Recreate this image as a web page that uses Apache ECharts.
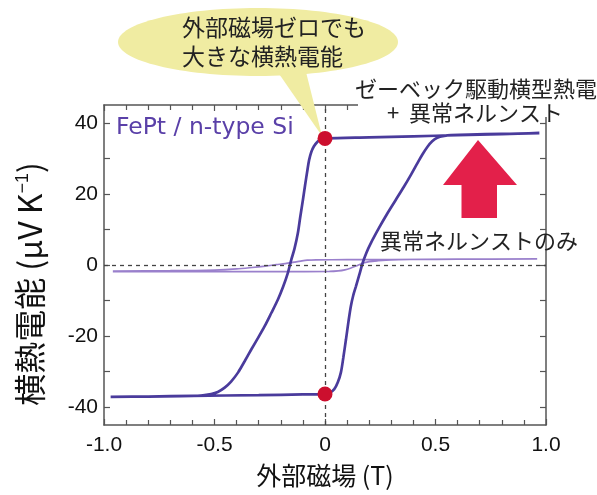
<!DOCTYPE html>
<html><head><meta charset="utf-8">
<script src="https://cdn.jsdelivr.net/npm/echarts@6/dist/echarts.min.js"></script>
<style>html,body{margin:0;padding:0;background:#fff}#c{width:597px;height:495px}</style>
</head><body><div id="c"></div>
<script>
// ---- data ----
const xTickLabels = ['-1.0', '-0.5', '0', '0.5', '1.0'];
const yTickLabels = [-40, -20, 0, 20, 40];
const yMinorTicks = [-40, -30, -20, -10, 0, 10, 20, 30, 40];

// FePt / n-type Si : Seebeck-driven transverse thermoelectric + anomalous Nernst (hysteresis loop)
const mainFieldT = [0.97, 0.8, 0.6, 0.4, 0.2, 0, -0.02, -0.035, -0.05, -0.062, -0.072, -0.08, -0.09, -0.1, -0.112, -0.123, -0.138, -0.153, -0.168, -0.19, -0.213, -0.243, -0.273, -0.303, -0.333, -0.363, -0.393, -0.425, -0.454, -0.485, -0.515, -0.56, -0.65, -0.8, -0.97,
  -0.8, -0.6, -0.3, -0.1, 0, 0.02, 0.042, 0.058, 0.072, 0.083, 0.095, 0.106, 0.117, 0.128, 0.14, 0.155, 0.17, 0.187, 0.207, 0.245, 0.282, 0.32, 0.357, 0.39, 0.417, 0.44, 0.463, 0.485, 0.508, 0.54, 0.57, 0.65, 0.8, 0.97];
const mainSeebeck = [37.1, 36.8, 36.5, 36.2, 35.9, 35.6, 35.3, 34.6, 33.4, 31.8, 29.5, 26.5, 22.5, 18.3, 13.5, 8.9, 4.6, 1.4, -2.2, -6.2, -9.7, -13.5, -17.2, -20.5, -23.7, -27, -30.2, -32.8, -34.5, -35.7, -36.3, -36.7, -36.9, -37.0, -37.1,
  -37.0, -36.8, -36.6, -36.4, -36.3, -36.0, -34.9, -33, -30.2, -26, -20.9, -16, -11.6, -8.5, -6, -2.8, 0.5, 3.4, 6.1, 10.5, 14.5, 18.3, 22, 25.5, 28.5, 31, 33.2, 34.8, 35.8, 36.3, 36.5, 36.7, 36.9, 37.1];

// anomalous Nernst only
const anFieldT = [-0.96, -0.7, -0.5, -0.4, -0.33, -0.27, -0.22, -0.18, -0.14, -0.11, -0.08, -0.04, 0.1, 0.3, 0.6, 0.96,
  0.6, 0.4, 0.3, 0.24, 0.2, 0.17, 0.14, 0.115, 0.09, 0.06, 0.02, -0.2, -0.5, -0.96];
const anSeebeck = [-1.7, -1.6, -1.4, -1.1, -0.7, -0.3, 0.1, 0.4, 0.8, 1.1, 1.35, 1.45, 1.5, 1.55, 1.65, 1.7,
  1.65, 1.55, 1.45, 1.2, 0.95, 0.5, -0.3, -0.9, -1.35, -1.65, -1.8, -1.85, -1.85, -1.9];

// zero-field points
const zeroFieldT = [0, 0];
const zeroFieldS = [35.6, -36.3];

// ---- chart ----
const latin = '"Liberation Sans", Arial, "Noto Sans CJK JP", sans-serif';
const cjk = '"Noto Sans CJK JP", "Liberation Sans", sans-serif';
const frame = { show: true, onZero: false, lineStyle: { color: '#555', width: 1.5 } };
const tickStyle = { color: '#555', width: 1.2 };

function xAxisCfg(pos, main) {
  return {
    type: 'value', position: pos, min: -1, max: 1, interval: 0.5,
    axisLine: frame,
    axisTick: { show: true, inside: true, length: 6, lineStyle: tickStyle },
    minorTick: { show: true, splitNumber: 5, length: 5, lineStyle: tickStyle },
    splitLine: { show: false }, minorSplitLine: { show: false },
    axisLabel: main ? {
      show: true, fontSize: 21, color: '#111', margin: 10, fontFamily: latin,
      formatter: v => xTickLabels[Math.round((v + 1) / 0.5)]
    } : { show: false },
    name: main ? '外部磁場 (T)' : '', nameLocation: 'middle', nameGap: 38,
    nameTextStyle: { fontSize: 25, color: '#111', fontFamily: cjk }
  };
}
function yAxisCfg(pos, main) {
  return {
    type: 'value', position: pos, min: -45, max: 45,
    axisLine: frame,
    axisTick: { show: true, inside: true, length: 6, lineStyle: tickStyle, customValues: yMinorTicks },
    splitLine: { show: false },
    axisLabel: main ? {
      show: true, fontSize: 21, color: '#111', margin: 6, fontFamily: latin,
      customValues: yTickLabels, formatter: v => String(v)
    } : { show: false },
    name: main ? '横熱電能 (μV K{sup|−1})' : '', nameLocation: 'middle', nameGap: 58, nameRotate: 90,
    nameTextStyle: { fontSize: 32, color: '#111', fontFamily: cjk, padding: [0, 38, 0, 0],
      rich: { sup: { fontSize: 18, fontFamily: latin, color: '#111', verticalAlign: 'top', padding: [0, 0, 14, 0] } } }
  };
}

const chart = echarts.init(document.getElementById('c'), null, { renderer: 'canvas' });
const bubbleFill = '#f0eca2';
chart.setOption({
  animation: false,
  backgroundColor: '#fff',
  grid: { left: 104, right: 51, top: 105, bottom: 70, outerBoundsMode: 'none', containLabel: false },
  xAxis: [xAxisCfg('bottom', true), xAxisCfg('top', false)],
  yAxis: [yAxisCfg('left', true), yAxisCfg('right', false)],
  series: [
    {
      type: 'line', data: [], z: 1,
      markLine: {
        silent: true, symbol: ['none', 'none'], label: { show: false },
        lineStyle: { type: [4, 4], color: '#444', width: 1.3 },
        data: [{ xAxis: 0 }, { yAxis: 0 }]
      }
    },
    {
      name: 'AN only', type: 'line', z: 3, showSymbol: false, smooth: 0.3,
      data: anFieldT.map((x, i) => [x, anSeebeck[i]]),
      lineStyle: { color: '#9a80cc', width: 1.7 }
    },
    {
      name: 'FePt / n-type Si', type: 'line', z: 4, showSymbol: false, smooth: 0.3,
      data: mainFieldT.map((x, i) => [x, mainSeebeck[i]]),
      lineStyle: { color: '#4a3b9c', width: 2.7 }
    },
    {
      type: 'scatter', z: 20, symbolSize: 15,
      data: zeroFieldT.map((x, i) => [x, zeroFieldS[i]]),
      itemStyle: { color: '#cc0f2e', opacity: 1 }
    }
  ],
  graphic: [
    { type: 'ellipse', z: 10, shape: { cx: 258, cy: 42, rx: 140, ry: 34 }, style: { fill: bubbleFill } },
    { type: 'polygon', z: 10, shape: { points: [[275, 68], [305, 68], [322, 136]] }, style: { fill: bubbleFill } },
    { type: 'text', z: 11, x: 182, y: 27, style: { text: '外部磁場ゼロでも', fontSize: 23, fontFamily: cjk, fill: '#222', align: 'left', verticalAlign: 'middle' } },
    { type: 'text', z: 11, x: 182, y: 56, style: { text: '大きな横熱電能', fontSize: 23, fontFamily: cjk, fill: '#222', align: 'left', verticalAlign: 'middle' } },
    { type: 'rect', z: 10, shape: { x: 358, y: 74, width: 239, height: 43 }, style: { fill: '#fff' } },
    { type: 'text', z: 11, x: 476, y: 89, style: { text: 'ゼーベック駆動横型熱電', fontSize: 22, fontFamily: cjk, fill: '#222', align: 'center', verticalAlign: 'middle' } },
    { type: 'text', z: 11, x: 475, y: 113, style: { text: '+  異常ネルンスト', fontSize: 22, fontFamily: cjk, fill: '#222', align: 'center', verticalAlign: 'middle' } },
    { type: 'text', z: 11, x: 380, y: 241, style: { text: '異常ネルンストのみ', fontSize: 22, fontFamily: cjk, fill: '#222', align: 'left', verticalAlign: 'middle' } },
    { type: 'text', z: 11, x: 116, y: 128, style: { text: 'FePt / n-type Si', fontSize: 23.5, fontFamily: '"DejaVu Sans", sans-serif', fill: '#5a40a8', align: 'left', verticalAlign: 'middle' } },
    { type: 'polygon', z: 9, shape: { points: [[478, 140], [443, 185], [461.5, 185], [461.5, 218], [497, 218], [497, 185], [517, 185]] }, style: { fill: '#e3204a' } }
  ]
});
</script>
</body></html>
